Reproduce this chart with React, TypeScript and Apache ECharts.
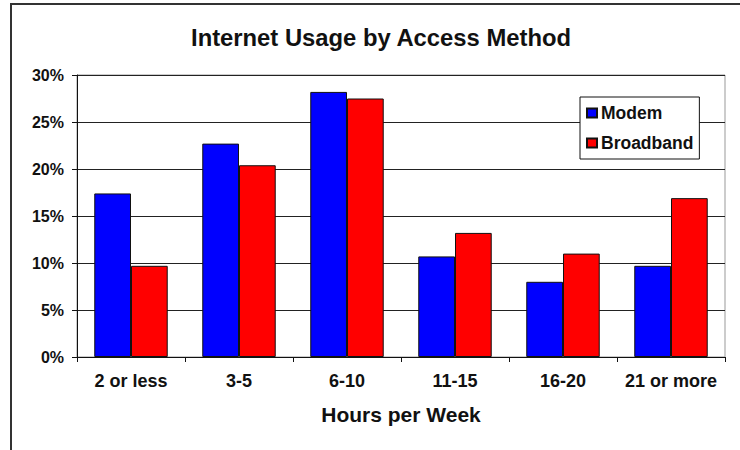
import React, { useEffect, useRef } from "react";
import * as echarts from "echarts";

const categories = ["2 or less", "3-5", "6-10", "11-15", "16-20", "21 or more"];
const modem = [17.4, 22.7, 28.2, 10.7, 8.0, 9.7];
const broadband = [9.7, 20.4, 27.5, 13.2, 11.0, 16.9];
const seriesNames = ["Modem", "Broadband"];
const titleText = "Internet Usage by Access Method";
const xAxisName = "Hours per Week";

const FONT = "Liberation Sans, Arial, sans-serif";

export default function App() {
  const ref = useRef<HTMLDivElement>(null);
  useEffect(() => {
    const chart = echarts.init(ref.current!, undefined, { renderer: "svg" });
    chart.setOption({
      animation: false,
      backgroundColor: "#ffffff",
      graphic: [
        {
          type: "rect",
          shape: { x: 11, y: 4, width: 800, height: 500 },
          style: { fill: "none", stroke: "#333", lineWidth: 2 },
          z: 0,
        },
        {
          type: "text",
          x: 381,
          y: 37,
          style: {
            text: titleText,
            fontFamily: FONT,
            fontWeight: "bold",
            fontSize: 23.8,
            fill: "#111",
            textAlign: "center",
            textVerticalAlign: "middle",
          },
        },
      ],
      legend: {
        orient: "vertical",
        left: 580,
        top: 97,
        padding: [7, 6, 7, 6],
        itemGap: 12,
        itemWidth: 10,
        itemHeight: 9,
        backgroundColor: "#fff",
        borderColor: "#111",
        borderWidth: 1,
        borderRadius: 0,
        icon: "rect",
        textStyle: { fontFamily: FONT, fontWeight: "bold", fontSize: 17.5, color: "#111", padding: [0, 0, 0, -1] },
        data: seriesNames,
      },
      grid: {
        left: 77,
        right: 15,
        top: 75,
        bottom: 93,
        show: true,
        borderColor: "#999",
        borderWidth: 1,
        containLabel: false,
      },
      xAxis: {
        type: "category",
        data: categories,
        name: xAxisName,
        nameLocation: "middle",
        nameGap: 47,
        nameTextStyle: { fontFamily: FONT, fontWeight: "bold", fontSize: 21, color: "#111" },
        axisLine: { lineStyle: { color: "#111", width: 1 } },
        axisTick: { show: true, length: 5, lineStyle: { color: "#111" } },
        axisLabel: { fontFamily: FONT, fontWeight: "bold", fontSize: 18, color: "#111", margin: 15, interval: 0 },
      },
      yAxis: {
        type: "value",
        min: 0,
        max: 30,
        interval: 5,
        axisLine: { show: true, lineStyle: { color: "#111", width: 1 } },
        axisTick: { show: true, length: 5, lineStyle: { color: "#111" } },
        axisLabel: { fontFamily: FONT, fontWeight: "bold", fontSize: 16, color: "#111", margin: 13, formatter: "{value}%" },
        splitLine: { show: true, lineStyle: { color: "#222", width: 1 } },
      },
      series: [
        {
          name: seriesNames[0],
          type: "bar",
          data: modem,
          barGap: "0%",
          barCategoryGap: "32%",
          itemStyle: { color: "#0000ff", borderColor: "#111", borderWidth: 1 },
        },
        {
          name: seriesNames[1],
          type: "bar",
          data: broadband,
          barGap: "0%",
          barCategoryGap: "32%",
          itemStyle: { color: "#ff0000", borderColor: "#111", borderWidth: 1 },
        },
      ],
    });
    return () => chart.dispose();
  }, []);
  return (
    <div
      ref={ref}
      style={{ position: "fixed", left: 0, top: 0, width: 740, height: 450 }}
    />
  );
}
